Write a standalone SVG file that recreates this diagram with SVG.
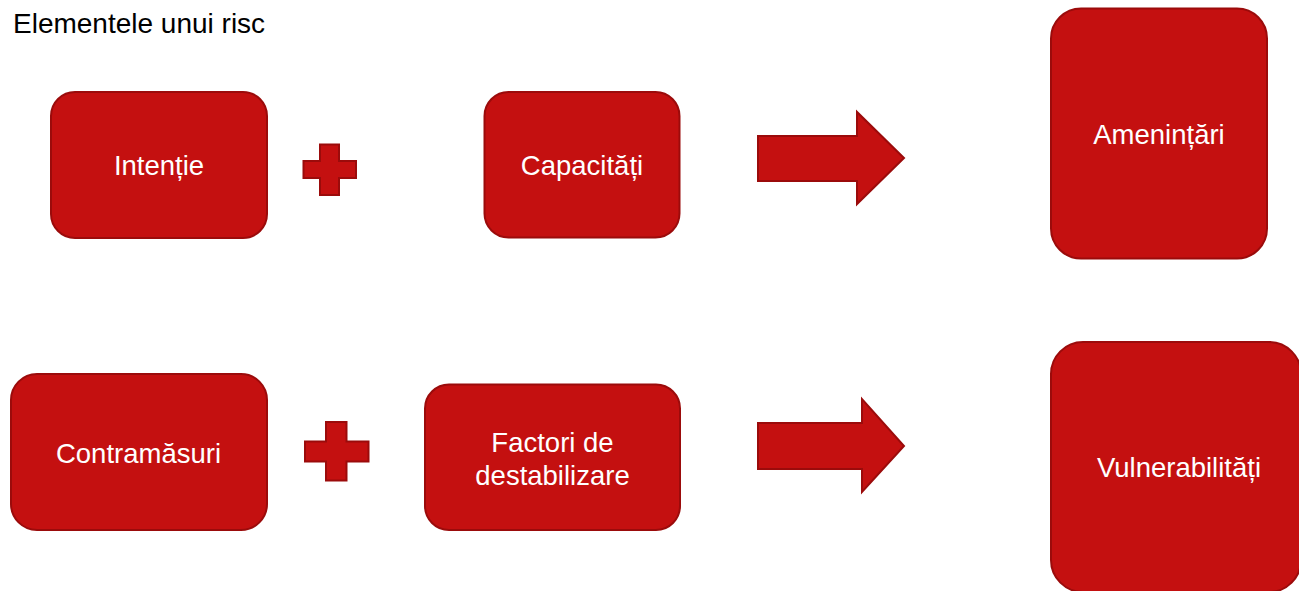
<svg xmlns="http://www.w3.org/2000/svg" width="1299" height="591" viewBox="0 0 1299 591">
<style>
.box{fill:#C41010;stroke:#9B0B0B;stroke-width:2}
.shape{fill:#C41010;stroke:#9B0B0B;stroke-width:2;stroke-linejoin:miter}
.lbl{font-family:"Liberation Sans",Arial,sans-serif;font-size:27.5px;fill:#ffffff;text-anchor:middle}
.title{font-family:"Liberation Sans",Arial,sans-serif;font-size:28px;fill:#000000}
</style>
<rect width="1299" height="591" fill="#ffffff"/>
<text class="title" x="13" y="33">Elementele unui risc</text>
<g id="intentie">
<rect class="box" x="51" y="92" width="216" height="146" rx="24" ry="24"/>
<text class="lbl" x="159" y="175">Intenție</text>
</g>
<g id="capacitati">
<rect class="box" x="484.5" y="92" width="195" height="145.5" rx="24" ry="24"/>
<text class="lbl" x="582" y="174.5">Capacități</text>
</g>
<g id="amenintari">
<rect class="box" x="1051" y="8.5" width="216" height="250" rx="30" ry="30"/>
<text class="lbl" x="1159" y="144">Amenințări</text>
</g>
<g id="contramasuri">
<rect class="box" x="11" y="374" width="256" height="156" rx="26" ry="26"/>
<text class="lbl" x="138.5" y="463">Contramăsuri</text>
</g>
<g id="factori">
<rect class="box" x="425" y="384.5" width="255" height="145.5" rx="24" ry="24"/>
<text class="lbl" x="552.5" y="452">Factori de</text>
<text class="lbl" x="552.5" y="485">destabilizare</text>
</g>
<g id="vulnerabilitati">
<rect class="box" x="1051" y="342" width="250" height="250" rx="32" ry="32"/>
<text class="lbl" x="1179" y="477">Vulnerabilități</text>
</g>
<g id="connectors">
<path class="shape" d="M320,144.5 H339 V161 H356 V178 H339 V195 H320 V178 H303.5 V161 H320 Z"/>
<path class="shape" d="M326,422 H346.5 V441.5 H368.5 V461.5 H346.5 V480.5 H326 V461.5 H305 V441.5 H326 Z"/>
<path class="shape" d="M758,136 H857 V112 L904,158 L857,204 V181 H758 Z"/>
<path class="shape" d="M758,423 H862 V399 L904,446 L862,492 V469 H758 Z"/>
</g>
</svg>
